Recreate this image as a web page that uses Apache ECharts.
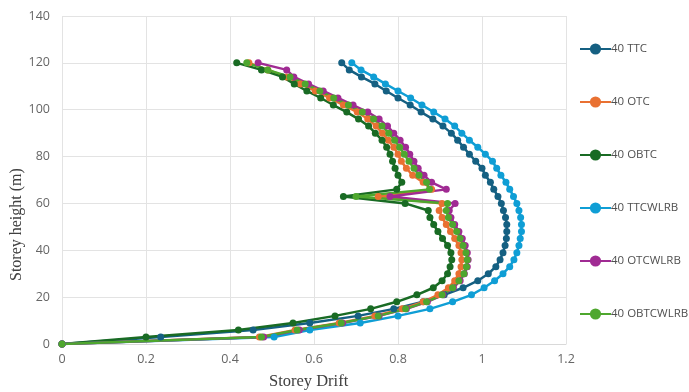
<!DOCTYPE html>
<html>
<head>
<meta charset="utf-8">
<script src="https://cdn.jsdelivr.net/npm/echarts@6/dist/echarts.min.js"></script>
<style>html,body{margin:0;padding:0;background:#fff}#c{width:689px;height:392px}</style>
</head>
<body>
<div id="c"></div>
<script>
var heights = [0,3,6,9,12,15,18,21,24,27,30,33,36,39,42,45,48,51,54,57,60,63,66,69,72,75,78,81,84,87,90,93,96,99,102,105,108,111,114,117,120];
var names = ['40 TTC','40 OTC','40 OBTC','40 TTCWLRB','40 OTCWLRB','40 OBTCWLRB'];
var ttc = [0,0.235,0.455,0.59,0.705,0.79,0.86,0.91,0.955,0.99,1.015,1.033,1.043,1.05,1.055,1.058,1.059,1.059,1.056,1.051,1.046,1.038,1.028,1.02,1.008,1.0,0.985,0.97,0.956,0.942,0.927,0.907,0.883,0.855,0.829,0.80,0.772,0.745,0.713,0.684,0.666];
var otc = [0,0.47,0.555,0.66,0.745,0.81,0.86,0.895,0.92,0.935,0.945,0.95,0.952,0.95,0.945,0.935,0.925,0.915,0.905,0.898,0.905,0.753,0.88,0.86,0.835,0.82,0.808,0.80,0.79,0.777,0.763,0.748,0.728,0.703,0.67,0.637,0.603,0.568,0.535,0.49,0.445];
var obtc = [0,0.2,0.42,0.55,0.65,0.735,0.797,0.845,0.884,0.905,0.918,0.924,0.928,0.926,0.918,0.906,0.895,0.885,0.876,0.872,0.817,0.67,0.797,0.809,0.80,0.793,0.787,0.781,0.773,0.762,0.746,0.73,0.706,0.678,0.646,0.616,0.583,0.553,0.525,0.475,0.416];
var ttcwlrb = [0,0.505,0.59,0.71,0.80,0.876,0.93,0.975,1.005,1.03,1.05,1.066,1.076,1.083,1.088,1.091,1.094,1.094,1.092,1.088,1.083,1.075,1.066,1.057,1.045,1.035,1.025,1.008,0.99,0.97,0.952,0.935,0.912,0.885,0.857,0.83,0.80,0.77,0.742,0.712,0.69];
var otcwlrb = [0,0.48,0.565,0.668,0.755,0.82,0.87,0.907,0.932,0.948,0.958,0.965,0.967,0.965,0.96,0.953,0.945,0.935,0.926,0.922,0.936,0.781,0.915,0.88,0.862,0.848,0.838,0.828,0.818,0.805,0.79,0.775,0.755,0.728,0.693,0.657,0.622,0.587,0.552,0.535,0.467];
var obtcwlrb = [0,0.475,0.56,0.665,0.753,0.818,0.868,0.905,0.93,0.945,0.957,0.963,0.965,0.962,0.955,0.948,0.94,0.93,0.92,0.915,0.918,0.70,0.875,0.868,0.85,0.838,0.826,0.815,0.804,0.792,0.778,0.762,0.742,0.715,0.682,0.647,0.614,0.579,0.543,0.49,0.44];
var colors = ['#156082','#E97132','#196B24','#0F9ED5','#A02B93','#4EA72E'];
var xTicks = [0,0.2,0.4,0.6,0.8,1,1.2];
var yTicks = [0,20,40,60,80,100,120,140];

var all = [ttc, otc, obtc, ttcwlrb, otcwlrb, obtcwlrb];
var series = all.map(function(vals, i){
  return {
    name: names[i], type: 'line',
    data: vals.map(function(v, k){ return [v, heights[k]]; }),
    symbol: 'circle', symbolSize: 7, showSymbol: true,
    lineStyle: {width: 2.5, color: colors[i]},
    itemStyle: {color: colors[i]},
    emphasis: {disabled: true}
  };
});

var chart = echarts.init(document.getElementById('c'));
chart.setOption({
  animation: false,
  color: colors,
  grid: {left: 62, right: 123, top: 16, bottom: 48, containLabel: false},
  xAxis: {
    type: 'value', min: 0, max: 1.2, interval: 0.2,
    axisLine: {show: true, lineStyle: {color: '#d9d9d9'}},
    axisTick: {show: false},
    splitLine: {show: true, lineStyle: {color: '#e3e3e3', width: 1}},
    axisLabel: {color: '#666666', fontSize: 12.5, fontFamily: 'Open Sans', margin: 9,
      formatter: function(v){ var t = xTicks.find(function(x){return Math.abs(x-v)<1e-9;}); return String(t===undefined?v:t); }}
  },
  yAxis: {
    type: 'value', min: 0, max: 140, interval: 20,
    axisLine: {show: false},
    axisTick: {show: false},
    splitLine: {show: true, lineStyle: {color: '#e3e3e3', width: 1}},
    axisLabel: {color: '#666666', fontSize: 12.5, fontFamily: 'Open Sans', margin: 12,
      formatter: function(v){ return yTicks.indexOf(v) >= 0 ? String(v) : ''; }}
  },
  legend: {
    orient: 'vertical', left: 574, top: 38,
    itemWidth: 31, itemHeight: 14, itemGap: 41,
    textStyle: {color: '#505050', fontSize: 11.5, fontFamily: 'Open Sans', padding: [0,0,0,-5]},
    data: names
  },
  graphic: [
    {type: 'text', left: 269, top: 373, style: {text: 'Storey Drift', fill: '#404040', font: '16.5px "Liberation Serif"'}},
    {type: 'text', x: 9, y: 281, rotation: Math.PI/2, style: {text: 'Storey height (m)', fill: '#404040', font: '16px "Liberation Serif"'}}
  ],
  series: series
});
</script>
</body>
</html>
